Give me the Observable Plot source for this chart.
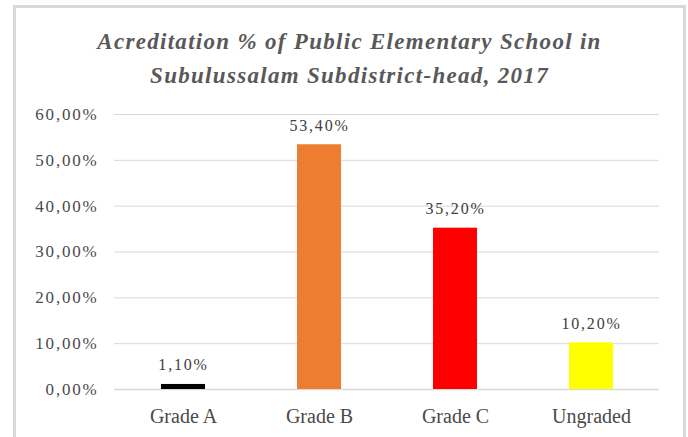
<!DOCTYPE html>
<html>
<head>
<meta charset="utf-8">
<script src="https://cdn.jsdelivr.net/npm/d3@7"></script>
<script src="https://cdn.jsdelivr.net/npm/@observablehq/plot@0.6"></script>
<style>
  html, body { margin: 0; padding: 0; background: #fff; }
  #wrap { position: relative; width: 688px; height: 437px; overflow: hidden; }
  #frame { position: absolute; left: 13px; top: 5px; width: 667px; height: 460px; border: 3px solid #d9d9d9; box-sizing: content-box; }
  #title { position: absolute; left: 13px; width: 673px; top: 25px; text-align: center;
    font-family: "Liberation Serif", "Times New Roman", serif; font-style: italic; font-weight: bold;
    font-size: 23px; line-height: 34px; color: #595959; letter-spacing: 1.3px; }
  #chart { position: absolute; left: 0; top: 0; }
  #chart svg [aria-label="y-axis tick label"] text,
  #chart svg [aria-label="text"] text { letter-spacing: 1.8px; }
</style>
</head>
<body>
<div id="wrap">
  <div id="frame"></div>
  <div id="chart"></div>
  <div id="title">Acreditation % of Public Elementary School in<br>Subulussalam Subdistrict-head, 2017</div>
</div>
<script>
const categories = ["Grade A", "Grade B", "Grade C", "Ungraded"];
const values = [1.10, 53.40, 35.20, 10.20];
const colors = ["#000000", "#ED7D31", "#FF0000", "#FFFF00"];
const yTicks = [0, 10, 20, 30, 40, 50, 60];

const fmt = v => v.toFixed(2).replace(".", ",") + "%";
const data = categories.map((c, i) => ({category: c, value: values[i], color: colors[i]}));

const chart = Plot.plot({
  width: 688,
  height: 437,
  marginLeft: 114,
  marginRight: 29,
  marginTop: 114,
  marginBottom: 48,
  style: {fontFamily: "'Liberation Serif', 'Times New Roman', serif", color: "#4a4a4a", background: "transparent"},
  x: {domain: categories, paddingInner: 0.68, paddingOuter: 0.34, label: null},
  y: {domain: [0, 60], label: null},
  color: {type: "identity"},
  marks: [
    Plot.gridY(yTicks, {stroke: "#d9d9d9", strokeOpacity: 1}),
    Plot.ruleY([0], {stroke: "#d9d9d9", strokeWidth: 1.5}),
    Plot.barY(data, {x: "category", y: "value", fill: "color"}),
    Plot.text(data, {x: "category", y: "value", text: d => fmt(d.value), dy: -14, lineAnchor: "bottom", fontSize: 16, fill: "#404040"}),
    Plot.axisX({tickSize: 0, tickPadding: 19, fontSize: 20, label: null}),
    Plot.axisY(yTicks, {tickSize: 0, tickPadding: 16, fontSize: 17, tickFormat: fmt, label: null})
  ]
});
document.getElementById("chart").appendChild(chart);
</script>
</body>
</html>
